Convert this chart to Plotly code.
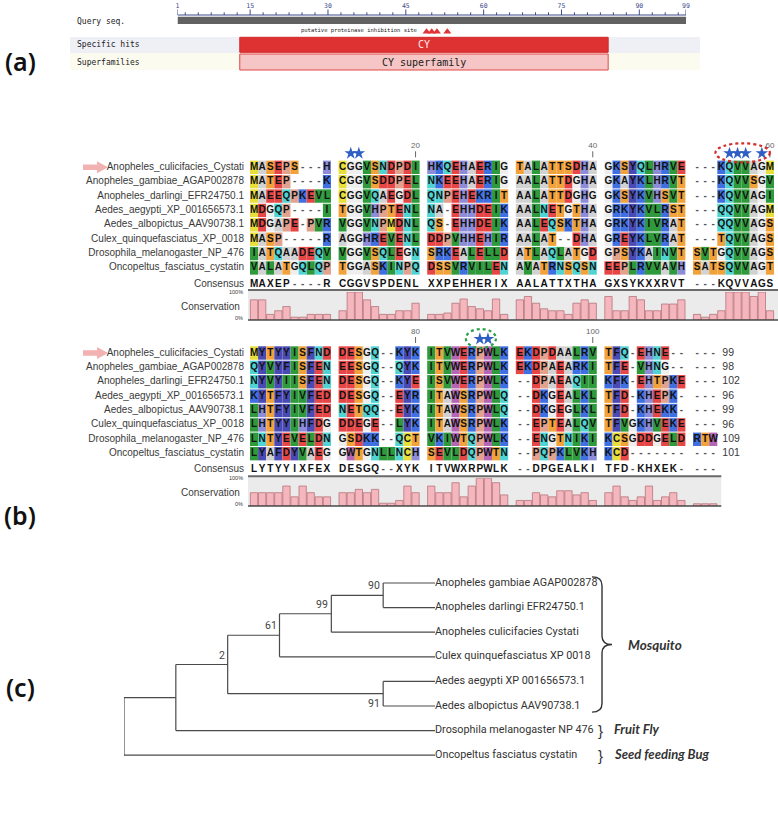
import plotly.graph_objects as go

W, H = 778, 825

# ------------------------------------------------------------------ data
# panel (a): conserved-domain search graphic
QUERY_LENGTH = 99
RULER_TICKS_A = [1, 15, 30, 45, 60, 75, 90, 99]
TRACK_LABELS = ["Query seq.", "Specific hits", "Superfamilies"]
CY_HIT = [13, 84]
HIT_LABEL = "CY"
SUPERFAMILY_LABEL = "CY superfamily"
SITE_RESIDUES = [49, 50, 51, 53]
SITE_LABEL = "putative proteinase inhibition site"

# panel (b): multiple alignment
SEQ_NAMES = [
    "Anopheles_culicifacies_Cystati",
    "Anopheles_gambiae_AGAP002878",
    "Anopheles_darlingi_EFR24750.1",
    "Aedes_aegypti_XP_001656573.1",
    "Aedes_albopictus_AAV90738.1",
    "Culex_quinquefasciatus_XP_0018",
    "Drosophila_melanogaster_NP_476",
    "Oncopeltus_fasciatus_cystatin",
]
SEQUENCES = [
    "MASEPS---H" "CGGVSNDPDI" "HKQEHAERIG" "TALATTSDHA" "GKSYQLHRVE" "---KQVVAGM"
    "MYTYYISFND" "DESGQ--KYK" "ITVWERPWLK" "EKDPDAALRV" "TFQ-EHNE--" "---",
    "MATEP----K" "CGGVSDDPEL" "NKEEHAERIG" "AALATTDGHA" "GKAYKLHRVT" "---KQVVSGV"
    "QYVYFISFEN" "EESGQ--QYK" "ITVWERPWLK" "EKDPAEARKI" "TFE-VHNG--" "---",
    "MAEEQPKEVL" "CGGVQAEGDL" "QNPEHEKRIT" "AALATTDGHG" "GKSYKVHSVT" "---KQVVAGI"
    "NYVYIISFEN" "DESGQ--KYE" "ISVWERPWLK" "--DPAEAQII" "KFK-EHTPKE" "---",
    "MDGQP----I" "TGGVHPTENL" "NA-EHHDEIK" "AALNETGTHA" "GRKYKVLRST" "---QQVVAGM"
    "KYTFYIVFED" "DESGQ--EYR" "ITAWSRPWLQ" "--DKGEALKL" "TFD-KHEPK-" "---",
    "MDGAPE-PVR" "VGGVNPMDNL" "QS-EHHDEIK" "AALEQSKTHA" "GRKYKIVRAT" "---QQVVAGS"
    "LHTFYIVFED" "NETQQ--EYK" "ITAWSRPWLQ" "--DKGEGLKL" "TFD-KHEKK-" "---",
    "MASP-----R" "AGGHREVENL" "DDPVHHEHIR" "AALAT--DHA" "GREYKLVRAT" "---TQVVAGS"
    "LHTYYIHFDG" "DDEGE--LYK" "ITAWSRPWLK" "--EPTEALQV" "TFVGKHVEKE" "---",
    "IATQAADEQV" "VGGVSQLEGN" "SRKEALELLD" "ATLAQLATGD" "GPSYKAINVT" "SVTGQVVAGS"
    "LNTYEVELDN" "GSDKK--QCT" "VKIWTQPWLK" "--ENGTNIKI" "KCSGDDGELD" "RTW",
    "VALATGQLQP" "TGGASKINPQ" "DSSVRVILEN" "AVATRNSQSN" "EEPLRVVAVH" "SATSQVVAGT"
    "LYAFDYVAEG" "GWTGNLLNCH" "SEVLDQPWTN" "--PQPKLVKH" "KCD-------" "---",
]
CONSENSUS = ("MAXEP----R" "CGGVSPDENL" "XXPEHHERIX" "AALATTXTHA" "GXSYKXXRVT" "---KQVVAGS"
             "LYTYYIXFEX" "DESGQ--XYK" "ITVWXRPWLK" "--DPGEALKI" "TFD-KHXEK-" "---")
SEQ_LENGTHS = [99, 98, 102, 96, 99, 96, 109, 101]
CONSERVATION = [
    72, 72, 20, 33, 48, 10, 10, 20, 20, 20,
    33, 100, 100, 72, 48, 20, 20, 33, 33, 60,
    20, 20, 25, 60, 75, 48, 40, 33, 75, 20,
    72, 84, 60, 40, 33, 33, 20, 60, 72, 60,
    84, 33, 33, 84, 72, 33, 33, 57, 57, 72,
    20, 10, 20, 33, 100, 100, 100, 84, 100, 33,
    48, 48, 48, 48, 72, 33, 72, 48, 33, 33,
    48, 48, 60, 48, 60, 10, 10, 20, 72, 48,
    72, 48, 48, 84, 33, 72, 100, 100, 84, 40,
    20, 20, 48, 40, 33, 55, 55, 40, 48, 20,
    48, 72, 33, 20, 33, 72, 20, 33, 48, 20,
    8, 8, 8,
]
RULER_TICKS_B = [20, 40, 60, 80, 100]
STAR_COLUMNS = [12, 13, 55, 56, 57, 59, 87, 88]
MOTIF_CIRCLES = [(55, 59, "#d42a2a"), (87, 88, "#2aa04a")]

# panel (c): phylogenetic tree
TREE_LEAVES = [
    "Anopheles gambiae AGAP002878",
    "Anopheles darlingi EFR24750.1",
    "Anopheles culicifacies Cystati",
    "Culex quinquefasciatus XP 0018",
    "Aedes aegypti XP 001656573.1",
    "Aedes albopictus AAV90738.1",
    "Drosophila melanogaster NP 476",
    "Oncopeltus fasciatus cystatin",
]
TREE = {"support": None, "children": [
    {"support": None, "children": [
        {"support": 2, "children": [
            {"support": 61, "children": [
                {"support": 99, "children": [
                    {"support": 90, "children": [0, 1]}, 2]}, 3]},
            {"support": 91, "children": [4, 5]}]},
        6]},
    7]}
GROUPS = [("Mosquito", 0, 5), ("Fruit Fly", 6, 6), ("Seed feeding Bug", 7, 7)]

# ------------------------------------------------------------------ style / layout constants
AA_COLORS = {
    "D": "#e64646", "E": "#e64646", "C": "#e8df3a", "M": "#e8df3a",
    "K": "#3f6fe0", "R": "#3f6fe0", "S": "#f2a23a", "T": "#f2a23a",
    "F": "#4a4ab4", "Y": "#4a4ab4", "N": "#4fd3d3", "Q": "#4fd3d3",
    "G": "#eeeeee", "L": "#2f9a3c", "V": "#2f9a3c", "I": "#2f9a3c",
    "A": "#d2d2d2", "W": "#b466b4", "H": "#8c8cd8", "P": "#e2a28e",
}
ALN_X0, CELL_W, BLOCK_GAP, CELL_H = 250.0, 8.1, 7.6, 13.4
ROW_PITCH = 14.38
PANEL_COLS = [(0, 60), (60, 113)]
PANEL_Y0 = [167.3, 353.0]          # first-row centre
CONS_TOP = [292.0, 478.3]          # 100 % line
CONS_BOT = [320.0, 506.0]          # 0 % line
LABEL_FONT = "Liberation Sans, Arial, sans-serif"
NARROW_FONT = "Roboto, Liberation Sans, sans-serif"
MONO_FONT = "DejaVu Sans Mono, Liberation Mono, monospace"
GROUP_FONT = "Lato, Open Sans, sans-serif"

A_X0, A_X1 = 177.5, 686.0          # residue 1 .. 99 pixel span
A_LABEL_X = 75
TREE_X0, TREE_X1 = 124.0, 435.0
TREE_Y0, TREE_DY = 583.0, 24.6


def col_x(j):
    return ALN_X0 + CELL_W / 2 + j * CELL_W + (j // 10) * BLOCK_GAP


def col_center(col):            # 1-based alignment column -> pixel x
    for p, (a, b) in enumerate(PANEL_COLS):
        if a < col <= b:
            return col_x(col - 1 - a), p
    return None, None


fig = go.Figure()
shapes, annotations = [], []

# ================================================================== panel (a)
ann_font = dict(family=MONO_FONT, size=8, color="#222")
shapes.append(dict(type="rect", xref="x", yref="y", x0=A_LABEL_X - 5, x1=700, y0=37, y1=53,
                   fillcolor="#efeff6", line_width=0, layer="below"))
shapes.append(dict(type="rect", xref="x", yref="y", x0=A_LABEL_X - 5, x1=700, y0=53, y1=70,
                   fillcolor="#fbfbf0", line_width=0, layer="below"))
for lab, yy in zip(TRACK_LABELS, [21.5, 44.5, 62]):
    annotations.append(dict(x=A_LABEL_X, y=yy, xref="x", yref="y", text=lab, showarrow=False,
                            xanchor="left", yanchor="middle", font=ann_font))
# ruler
tick_x, tick_y = [1, QUERY_LENGTH, None], [15, 15, None]
minor = []
k = 15.0
while k - 2.5 >= 1:
    k -= 2.5
    minor.append(k)
k = 15.0
while k + 2.5 < QUERY_LENGTH:
    k += 2.5
    minor.append(k)
for p in RULER_TICKS_A:
    tick_x += [p, p, None]
    tick_y += [9.5, 15, None]
for p in minor:
    if p not in RULER_TICKS_A:
        tick_x += [p, p, None]
        tick_y += [12.3, 15, None]
fig.add_trace(go.Scatter(x=tick_x, y=tick_y, mode="lines", xaxis="x2", yaxis="y",
                         line=dict(color="#3d4a8c", width=1), hoverinfo="skip"))
fig.add_trace(go.Scatter(x=RULER_TICKS_A, y=[6] * len(RULER_TICKS_A), mode="text",
                         text=[str(t) for t in RULER_TICKS_A], xaxis="x2", yaxis="y",
                         textfont=dict(family=MONO_FONT, size=6.5, color="#3d4a8c"),
                         cliponaxis=False, hoverinfo="skip"))
shapes.append(dict(type="rect", xref="x2", yref="y", x0=1, x1=QUERY_LENGTH, y0=16.8, y1=24,
                   fillcolor="#626262", line_width=0))
fig.add_trace(go.Scatter(x=SITE_RESIDUES, y=[31.8] * len(SITE_RESIDUES), mode="markers",
                         marker=dict(symbol="triangle-up", size=7, color="#e03434"),
                         xaxis="x2", yaxis="y", cliponaxis=False, hoverinfo="skip"))
annotations.append(dict(x=SITE_RESIDUES[0] - 1.4, y=30.5, xref="x2", yref="y", text=SITE_LABEL,
                        showarrow=False, xanchor="right", yanchor="middle",
                        font=dict(family=MONO_FONT, size=5.5, color="#222")))
shapes.append(dict(type="rect", xref="x2", yref="y", x0=CY_HIT[0], x1=CY_HIT[1], y0=37.3, y1=52.3,
                   fillcolor="#de3232", line=dict(color="#d02a2a", width=1)))
shapes.append(dict(type="rect", xref="x2", yref="y", x0=CY_HIT[0], x1=CY_HIT[1], y0=54, y1=70,
                   fillcolor="#f6c6c6", line=dict(color="#e04848", width=1)))
annotations.append(dict(x=sum(CY_HIT) / 2, y=44.8, xref="x2", yref="y", text=HIT_LABEL,
                        showarrow=False, font=dict(family=MONO_FONT, size=10, color="#fde8e8")))
annotations.append(dict(x=sum(CY_HIT) / 2, y=62, xref="x2", yref="y", text=SUPERFAMILY_LABEL,
                        showarrow=False, font=dict(family=MONO_FONT, size=10, color="#222")))

# ================================================================== panel (b)
star_x, star_y = [], []
for p, (a, b) in enumerate(PANEL_COLS):
    y0 = PANEL_Y0[p]
    for r, seq in enumerate(SEQUENCES):
        xs, cols = [], []
        for j, ch in enumerate(seq[a:b]):
            if ch in AA_COLORS:
                xs.append(col_x(j))
                cols.append(AA_COLORS[ch])
        fig.add_trace(go.Bar(x=xs, y=[CELL_H] * len(xs), base=y0 + r * ROW_PITCH - CELL_H / 2,
                             width=CELL_W, marker=dict(color=cols, line_width=0),
                             xaxis="x", yaxis="y", hoverinfo="skip"))
    lx, ly, lt, lc = [], [], [], []
    for r, seq in enumerate(SEQUENCES + [CONSENSUS]):
        yy = y0 + r * ROW_PITCH + (1.8 if r == len(SEQUENCES) else 0)
        for j, ch in enumerate(seq[a:b]):
            lx.append(col_x(j))
            ly.append(yy)
            lt.append(ch)
            lc.append("#555" if ch == "-" else "#111")
    fig.add_trace(go.Scatter(x=lx, y=ly, mode="text", text=lt, xaxis="x", yaxis="y",
                             textfont=dict(family=LABEL_FONT, size=10, color=lc, weight="bold"),
                             cliponaxis=False, hoverinfo="skip"))
    names = SEQ_NAMES + ["Consensus"]
    ny = [y0 + r * ROW_PITCH for r in range(len(SEQ_NAMES))] + [y0 + 8 * ROW_PITCH + 1.8]
    fig.add_trace(go.Scatter(x=[244] * len(names), y=ny, mode="text", text=names,
                             textposition="middle left", xaxis="x", yaxis="y",
                             textfont=dict(family=LABEL_FONT, size=10, color="#3a3a3a"),
                             cliponaxis=False, hoverinfo="skip"))
    rx, rt = [], []
    for t in RULER_TICKS_B:
        cx, pp = col_center(t)
        if pp == p:
            rx.append(cx)
            rt.append(str(t))
    top = y0 - 15.5
    fig.add_trace(go.Scatter(x=sum([[v, v, None] for v in rx], []),
                             y=sum([[top - 0.5, top + 5.5, None] for _ in rx], []),
                             mode="lines", line=dict(color="#666", width=1), xaxis="x", yaxis="y",
                             hoverinfo="skip"))
    fig.add_trace(go.Scatter(x=rx, y=[top - 6] * len(rx), text=rt, mode="text", xaxis="x", yaxis="y",
                             textfont=dict(family=LABEL_FONT, size=8, color="#666"),
                             cliponaxis=False, hoverinfo="skip"))
    x_end = min(col_x(b - a - 1) + CELL_W / 2 + 4, W)
    shapes.append(dict(type="rect", xref="x", yref="y", x0=248, x1=x_end,
                       y0=CONS_TOP[p] - 2, y1=CONS_BOT[p], fillcolor="#ebebeb",
                       line_width=0, layer="below"))
    shapes.append(dict(type="line", xref="x", yref="y", x0=248, x1=x_end,
                       y0=CONS_TOP[p] - 2, y1=CONS_TOP[p] - 2, line=dict(color="#6a6a6a", width=2)))
    shapes.append(dict(type="line", xref="x", yref="y", x0=248, x1=x_end,
                       y0=CONS_BOT[p], y1=CONS_BOT[p], line=dict(color="#4a4a4a", width=1.5)))
    fig.add_trace(go.Bar(x=[col_x(j) for j in range(b - a)], y=CONSERVATION[a:b], base=0,
                         width=CELL_W - 0.8, xaxis="x", yaxis="y%d" % (p + 2),
                         marker=dict(color="#f5b7bd", line=dict(color="#b5737b", width=0.8)),
                         hoverinfo="skip"))
    for txt, yy, sz in [("100%", CONS_TOP[p] - 0.5, 5.5), ("0%", CONS_BOT[p] - 2, 5.5),
                        ("Conservation", (CONS_TOP[p] + CONS_BOT[p]) / 2, 10)]:
        annotations.append(dict(x=245 if sz < 6 else 242, y=yy, xref="x", yref="y", text=txt,
                                showarrow=False, xanchor="right", yanchor="middle",
                                font=dict(family=LABEL_FONT, size=sz, color="#3a3a3a")))
    for c in STAR_COLUMNS:
        cx, pp = col_center(c)
        if pp == p:
            star_x.append(cx)
            star_y.append(y0 - 14)
    for c0, c1, colr in MOTIF_CIRCLES:
        cx0, p0 = col_center(c0)
        cx1, _ = col_center(c1)
        if p0 == p:
            shapes.append(dict(type="circle", xref="x", yref="y", x0=cx0 - 14, x1=cx1 + 8,
                               y0=y0 - 24, y1=y0 - 5, line=dict(color=colr, width=2.2, dash="dot")))
    if p == len(PANEL_COLS) - 1:
        ex = col_x(b - a - 1) + CELL_W / 2 + 5
        fig.add_trace(go.Scatter(x=[ex] * len(SEQ_LENGTHS),
                                 y=[y0 + r * ROW_PITCH for r in range(len(SEQ_LENGTHS))],
                                 text=[str(v) for v in SEQ_LENGTHS], mode="text",
                                 textposition="middle right", xaxis="x", yaxis="y",
                                 textfont=dict(family=LABEL_FONT, size=10.5, color="#3a3a3a"),
                                 cliponaxis=False, hoverinfo="skip"))

fig.add_trace(go.Scatter(x=star_x, y=star_y, mode="markers", xaxis="x", yaxis="y",
                         marker=dict(symbol="star", size=9.5, color="#2f5fc4"),
                         cliponaxis=False, hoverinfo="skip"))

for y0 in PANEL_Y0:
    shapes.append(dict(type="path", xref="x", yref="y", fillcolor="#f2b2b2", line_width=0,
                       path=f"M 83 {y0-2.8} L 97 {y0-2.8} L 97 {y0-6} L 108 {y0} L 97 {y0+6} "
                            f"L 97 {y0+2.8} L 83 {y0+2.8} Z"))

# ================================================================== panel (c)
unit = (TREE_X1 - TREE_X0) / 6.0
x3_range = [0, (W - TREE_X0) / unit]
y4_top_px, y4_bot_px = 560.0, float(H)
y4_range = [(y4_bot_px - TREE_Y0) / TREE_DY, (y4_top_px - TREE_Y0) / TREE_DY]


def layout_tree(node):
    if isinstance(node, int):
        return {"y": float(node), "h": 0, "leaf": node}
    kids = [layout_tree(c) for c in node["children"]]
    return {"y": (kids[0]["y"] + kids[-1]["y"]) / 2, "h": 1 + max(k["h"] for k in kids),
            "kids": kids, "support": node["support"]}


root = layout_tree(TREE)
MAXH = root["h"]
lx, ly, sup = [], [], []


def walk(n, is_last):
    nx = MAXH - n["h"]
    if "kids" not in n:
        return
    lx.extend([nx, nx, None])
    ly.extend([n["kids"][0]["y"], n["kids"][-1]["y"], None])
    for i, k in enumerate(n["kids"]):
        lx.extend([nx, MAXH - k["h"], None])
        ly.extend([k["y"], k["y"], None])
        walk(k, i == len(n["kids"]) - 1)
    if n["support"] is not None:
        sup.append((nx, n["y"], n["support"], is_last))


walk(root, False)
fig.add_trace(go.Scatter(x=lx, y=ly, mode="lines", xaxis="x3", yaxis="y4",
                         line=dict(color="#4a4a4a", width=1.2), hoverinfo="skip"))
for nx, ny, s, below in sup:
    annotations.append(dict(x=nx, y=ny + (0.4 if below else -0.38), xref="x3", yref="y4",
                            text=str(s), showarrow=False, xanchor="right", yanchor="middle",
                            xshift=-1, font=dict(family=NARROW_FONT, size=10.5, color="#444")))
fig.add_trace(go.Scatter(x=[MAXH] * len(TREE_LEAVES), y=list(range(len(TREE_LEAVES))),
                         text=TREE_LEAVES, mode="text", textposition="middle right",
                         xaxis="x3", yaxis="y4",
                         textfont=dict(family=NARROW_FONT, size=10.8, color="#333"),
                         cliponaxis=False, hoverinfo="skip"))
for name, i0, i1 in GROUPS:
    if i1 > i0:
        bx0 = MAXH + 157 / unit
        bx1 = MAXH + 177 / unit
        bxm = (bx0 + bx1) / 2
        yt, yb = i0 - 0.25, i1 + 0.25
        ym = (yt + yb) / 2
        r = 0.35
        path = (f"M {bx0} {yt} Q {bxm} {yt} {bxm} {yt + r} L {bxm} {ym - r} "
                f"Q {bxm} {ym} {bx1} {ym} Q {bxm} {ym} {bxm} {ym + r} "
                f"L {bxm} {yb - r} Q {bxm} {yb} {bx0} {yb}")
        shapes.append(dict(type="path", xref="x3", yref="y4", path=path,
                           line=dict(color="#333", width=1.4)))
        annotations.append(dict(x=bx1, y=ym, xref="x3", yref="y4", text=name, showarrow=False,
                                xanchor="left", yanchor="middle", xshift=14,
                                font=dict(family=GROUP_FONT, size=13.5, color="#333",
                                          weight="bold", style="italic")))
    else:
        bx = MAXH + 165 / unit
        annotations.append(dict(x=bx, y=i0, xref="x3", yref="y4", text="}", showarrow=False,
                                xanchor="center", yanchor="middle",
                                font=dict(family=LABEL_FONT, size=15, color="#333")))
        annotations.append(dict(x=bx, y=i0 - 0.05, xref="x3", yref="y4", text=name,
                                showarrow=False, xanchor="left", yanchor="middle", xshift=12,
                                font=dict(family=GROUP_FONT, size=13, color="#333",
                                          weight="bold", style="italic")))

for lab, yy in [("(a)", 61), ("(b)", 515), ("(c)", 687)]:
    annotations.append(dict(x=20, y=yy, xref="x", yref="y", text=lab, showarrow=False,
                            font=dict(family="Noto Sans, Lato, sans-serif", size=25,
                                      color="#111", weight=600)))

hidden = dict(visible=False, fixedrange=True)
fig.update_layout(
    width=W, height=H, margin=dict(l=0, r=0, t=0, b=0),
    paper_bgcolor="white", plot_bgcolor="rgba(0,0,0,0)",
    showlegend=False, barmode="overlay",
    xaxis=dict(hidden, range=[0, W], domain=[0, 1]),
    yaxis=dict(hidden, range=[H, 0], domain=[0, 1]),
    xaxis2=dict(hidden, range=[1, QUERY_LENGTH], domain=[A_X0 / W, A_X1 / W], anchor="y"),
    yaxis2=dict(hidden, range=[0, 100], domain=[1 - CONS_BOT[0] / H, 1 - CONS_TOP[0] / H], anchor="x"),
    yaxis3=dict(hidden, range=[0, 100], domain=[1 - CONS_BOT[1] / H, 1 - CONS_TOP[1] / H], anchor="x"),
    xaxis3=dict(hidden, range=x3_range, domain=[TREE_X0 / W, 1], anchor="y4"),
    yaxis4=dict(hidden, range=y4_range, domain=[0, 1 - y4_top_px / H], anchor="x3"),
    shapes=shapes, annotations=annotations,
)
fig.write_html("out.html", config={"displayModeBar": False},
               post_script="document.body.style.margin='0';document.body.style.overflow='hidden';")
